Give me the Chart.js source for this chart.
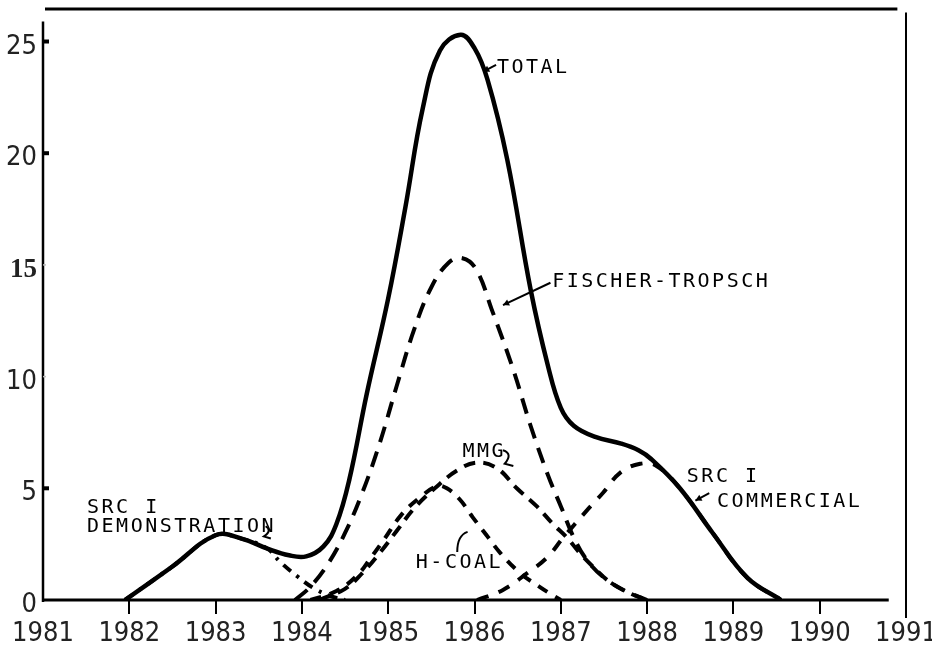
<!DOCTYPE html>
<html><head><meta charset="utf-8">
<script src="https://cdn.jsdelivr.net/npm/chart.js@4/dist/chart.umd.min.js"></script>
<style>html,body{margin:0;padding:0;background:#fff}</style>
</head><body>
<canvas id="c" width="932" height="661"></canvas>
<script>
// ---- tick labels ----
const xTickLabels = ['1981','1982','1983','1984','1985','1986','1987','1988','1989','1990','1991'];
const yTickValues = [0, 5, 10, 15, 20, 25];

// ---- series (year, value) ----
const totalYears  = [1981.95,1982.5,1983.0,1983.3,1983.6,1983.85,1984.05,1984.25,1984.4,1984.55,1984.75,1985.0,1985.2,1985.4,1985.6,1985.84,1986.0,1986.15,1986.38,1986.65,1986.85,1987.0,1987.15,1987.4,1987.7,1987.9,1988.05,1988.38,1988.76,1989.16,1989.55];
const totalValues = [0,1.5,2.9,2.75,2.3,2.0,1.95,2.4,3.4,5.4,9.2,13.5,17.6,22.0,24.6,25.3,24.7,23.3,19.7,13.9,10.5,8.6,7.8,7.3,7.0,6.7,6.3,5.0,3.0,1.0,0];

const ftYears  = [1983.92,1984.1,1984.3,1984.5,1984.7,1984.9,1985.1,1985.3,1985.5,1985.7,1985.86,1986.02,1986.2,1986.45,1986.65,1986.85,1987.0,1987.15,1987.3,1987.5,1987.75,1988.0];
const ftValues = [0,0.6,1.6,3.0,4.8,7.0,9.6,12.1,14.0,15.1,15.3,14.8,13.0,10.3,7.8,5.6,4.2,2.8,1.8,1.0,0.4,0];

const mmgYears  = [1984.2,1984.5,1984.7,1984.9,1985.1,1985.3,1985.54,1985.8,1986.03,1986.26,1986.49,1986.72,1986.91,1987.07,1987.22,1987.37,1987.57,1987.8,1988.0];
const mmgValues = [0,0.5,1.2,2.1,3.1,4.1,5.0,5.8,6.15,5.9,5.0,4.2,3.4,2.8,2.1,1.5,0.8,0.3,0];

const hcoalYears  = [1984.1,1984.4,1984.64,1984.8,1984.95,1985.15,1985.37,1985.57,1985.68,1985.83,1985.98,1986.14,1986.3,1986.53,1986.75,1986.87,1987.0];
const hcoalValues = [0,0.4,1.1,1.9,2.7,3.8,4.6,5.1,5.0,4.5,3.7,2.9,2.1,1.2,0.6,0.3,0];

const commYears  = [1986.03,1986.33,1986.61,1986.84,1987.03,1987.3,1987.49,1987.69,1987.92,1988.11,1988.38,1988.76,1989.16,1989.55];
const commValues = [0,0.45,1.2,1.9,2.8,4.0,4.8,5.7,6.1,6.0,5.0,3.0,1.0,0];

const demoYears  = [1981.95,1982.5,1983.0,1983.3,1983.6,1983.75,1983.95,1984.15,1984.35,1984.5];
const demoValues = [0,1.5,2.9,2.75,2.3,1.7,1.05,0.5,0.15,0];

// ---- annotations: text anchored at (year, value) ----
const labelTexts  = ['SRC I','DEMONSTRATION','TOTAL','FISCHER-TROPSCH','MMG','H-COAL','SRC I','COMMERCIAL'];
const labelYears  = [1981.51,1981.51,1986.26,1986.9,1985.86,1985.32,1988.46,1988.81];
const labelValues = [3.9,3.05,23.6,14.0,6.4,1.43,5.29,4.17];

const pts = (xs, ys) => xs.map((x, i) => ({x: x, y: ys[i]}));

const baseDs = {borderColor:'#000', backgroundColor:'#000', pointRadius:0, fill:false, tension:0.4, borderCapStyle:'butt', borderWidth:4};

const annotPlugin = {
  id: 'annot',
  afterDatasetsDraw(chart) {
    const ctx = chart.ctx, xs = chart.scales.x, ys = chart.scales.y;
    const X = v => xs.getPixelForValue(v), Y = v => ys.getPixelForValue(v);
    ctx.save();
    ctx.strokeStyle = '#000';
    ctx.fillStyle = '#000';
    ctx.lineCap = 'butt';
    // frame: top line
    ctx.lineWidth = 3;
    ctx.beginPath(); ctx.moveTo(X(1981) + 2, Y(26.5) + 1); ctx.lineTo(X(1990.9), Y(26.5) + 1); ctx.stroke();
    // left axis
    ctx.lineWidth = 2.5;
    ctx.beginPath(); ctx.moveTo(X(1981), Y(25.9)); ctx.lineTo(X(1981), Y(0) + 2); ctx.stroke();
    // bottom axis
    ctx.lineWidth = 3;
    ctx.beginPath(); ctx.moveTo(X(1981), Y(0)); ctx.lineTo(X(1990.8), Y(0)); ctx.stroke();
    // right line
    ctx.lineWidth = 2;
    ctx.beginPath(); ctx.moveTo(X(1991), Y(26.3)); ctx.lineTo(X(1991), Y(0) + 18); ctx.stroke();
    // inside y tick marks
    yTickValues.forEach(v => {
      if (v === 0) return;
      const strong = (v === 25 || v === 20 || v === 5);
      ctx.strokeStyle = strong ? '#000' : '#bbb';
      ctx.lineWidth = strong ? 4 : 1.5;
      ctx.beginPath(); ctx.moveTo(X(1981), Y(v)); ctx.lineTo(X(1981) + (strong ? 6 : 3), Y(v)); ctx.stroke();
    });
    ctx.strokeStyle = '#000';
    // annotation texts
    ctx.font = '20px "DejaVu Sans Mono", monospace';
    ctx.letterSpacing = '2.5px';
    ctx.textBaseline = 'alphabetic';
    ctx.textAlign = 'left';
    labelTexts.forEach((t, i) => ctx.fillText(t, X(labelYears[i]), Y(labelValues[i])));
    ctx.letterSpacing = '0px';
    // pointers
    ctx.lineWidth = 2;
    const arrow = (x1, y1, x2, y2) => {
      const ax = X(x1), ay = Y(y1), bx = X(x2), by = Y(y2);
      ctx.beginPath(); ctx.moveTo(ax, ay); ctx.lineTo(bx, by); ctx.stroke();
      const a = Math.atan2(by - ay, bx - ax);
      ctx.beginPath();
      ctx.moveTo(bx, by);
      ctx.lineTo(bx - 7 * Math.cos(a - 0.5), by - 7 * Math.sin(a - 0.5));
      ctx.lineTo(bx - 7 * Math.cos(a + 0.5), by - 7 * Math.sin(a + 0.5));
      ctx.closePath(); ctx.fill();
    };
    arrow(1986.25, 23.95, 1986.1, 23.65);
    arrow(1986.88, 14.2, 1986.33, 13.2);
    arrow(1988.72, 4.78, 1988.56, 4.45);
    // H-COAL curved pointer
    ctx.beginPath();
    ctx.moveTo(X(1985.8), Y(2.15));
    ctx.quadraticCurveTo(X(1985.8), Y(2.9), X(1985.92), Y(3.05));
    ctx.stroke();
    // MMG squiggle
    ctx.beginPath();
    ctx.moveTo(X(1986.33), Y(6.7));
    ctx.quadraticCurveTo(X(1986.45), Y(6.55), X(1986.35), Y(6.1));
    ctx.lineTo(X(1986.45), Y(6.0));
    ctx.stroke();
    // DEMONSTRATION squiggle
    ctx.beginPath();
    ctx.moveTo(X(1983.58), Y(3.3));
    ctx.quadraticCurveTo(X(1983.66), Y(3.1), X(1983.56), Y(2.85));
    ctx.lineTo(X(1983.64), Y(2.75));
    ctx.stroke();
    ctx.restore();
  }
};

new Chart(document.getElementById('c'), {
  type: 'line',
  data: {
    datasets: [
      Object.assign({}, baseDs, {label:'TOTAL', data: pts(totalYears, totalValues), borderWidth: 4.5}),
      Object.assign({}, baseDs, {label:'FISCHER-TROPSCH', data: pts(ftYears, ftValues), borderDash:[16,10]}),
      Object.assign({}, baseDs, {label:'MMG', data: pts(mmgYears, mmgValues), borderDash:[12,8]}),
      Object.assign({}, baseDs, {label:'H-COAL', data: pts(hcoalYears, hcoalValues), borderDash:[11,9]}),
      Object.assign({}, baseDs, {label:'SRC I COMMERCIAL', data: pts(commYears, commValues), borderDash:[12,11]}),
      Object.assign({}, baseDs, {label:'SRC I DEMONSTRATION', data: pts(demoYears, demoValues), borderDash:[10,7,3,7]})
    ]
  },
  options: {
    responsive: false,
    animation: false,
    events: [],
    layout: {padding: {top: 8, right: 26, left: 0, bottom: 0}},
    plugins: {legend: {display: false}, tooltip: {enabled: false}},
    scales: {
      x: {
        type: 'linear', min: 1981, max: 1991,
        afterFit(s) { s.height = 61; s.paddingLeft = 0; s.paddingRight = 0; },
        border: {display: false},
        grid: {
          drawOnChartArea: false, drawTicks: true, tickLength: 14, lineWidth: 2,
          color: c => (c.tick && (c.tick.value === 1981 || c.tick.value === 1991)) ? 'rgba(0,0,0,0)' : '#000'
        },
        ticks: {
          stepSize: 1, autoSkip: false, maxRotation: 0, padding: 4, color: '#222',
          font: {family: '"Liberation Sans Narrow", "DejaVu Sans Condensed", sans-serif', size: 27},
          callback: v => xTickLabels[Math.round(v - 1981)]
        }
      },
      y: {
        type: 'linear', min: 0, max: 26.5,
        afterFit(s) { s.width = 43; s.paddingTop = 0; s.paddingBottom = 0; },
        afterBuildTicks(s) { s.ticks = yTickValues.map(v => ({value: v})); },
        border: {display: false},
        grid: {display: false, drawTicks: false},
        ticks: {
          padding: 6, labelOffset: 5, color: '#222',
          font: c => (c.tick && c.tick.value === 15)
            ? {family: '"Liberation Serif", serif', size: 27, weight: 'bold'}
            : {family: '"Liberation Sans Narrow", "DejaVu Sans Condensed", sans-serif', size: 27},
          callback: v => String(v)
        }
      }
    }
  },
  plugins: [annotPlugin]
});
</script>
</body></html>
